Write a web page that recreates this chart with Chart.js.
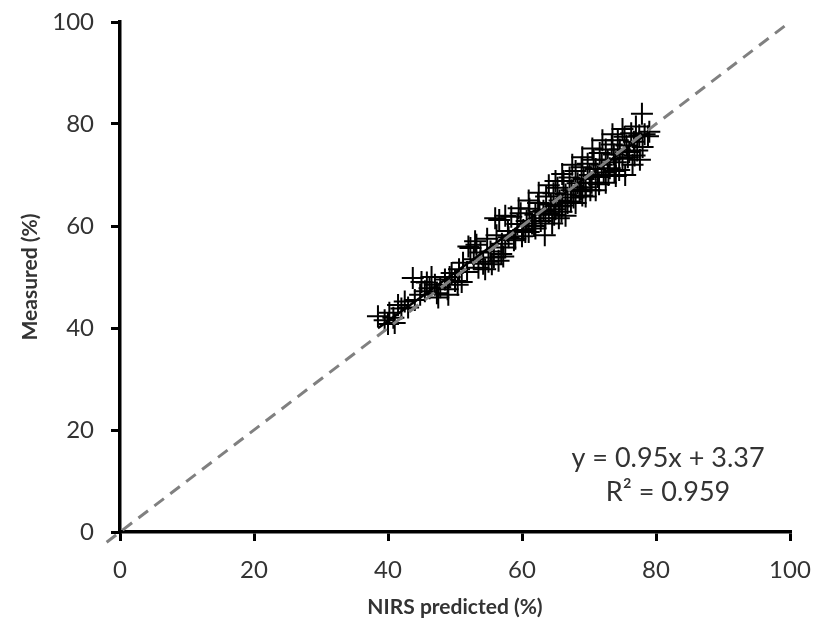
<!DOCTYPE html>
<html>
<head>
<meta charset="utf-8">
<script src="https://cdn.jsdelivr.net/npm/chart.js@4.4.1/dist/chart.umd.min.js"></script>
<style>
  html, body { margin: 0; padding: 0; background: #fff; }
  #wrap { width: 815px; height: 632px; }
</style>
</head>
<body>
<div id="wrap"><canvas id="chart"></canvas></div>
<script>
// Values
const predicted = [
  38.5, 39.5, 40.2, 40.8, 41.5, 42.0, 42.5, 43.7, 44.8, 45.5,
  46.2, 47.0, 47.8, 48.5, 48.9, 49.5, 50.0, 50.6, 51.2, 51.8,
  52.3, 52.8, 53.2, 53.8, 54.2, 54.8, 55.3, 55.8, 56.2, 56.6,
  57.0, 57.5, 57.9, 58.4, 58.8, 59.3, 59.8, 60.2, 60.7, 61.1,
  61.5, 62.0, 62.4, 62.8, 63.2, 63.6, 64.0, 64.3, 64.7, 65.0,
  65.3, 65.6, 65.9, 66.2, 66.5, 66.8, 67.1, 67.4, 67.7, 68.0,
  68.3, 68.6, 68.9, 69.2, 69.5, 69.8, 70.1, 70.4, 70.7, 71.0,
  71.3, 71.6, 71.9, 72.2, 72.5, 72.8, 73.1, 73.4, 73.7, 74.0,
  74.3, 74.6, 75.0, 75.3, 75.6, 76.0, 76.3, 76.7, 77.0, 77.5,
  77.9, 78.3, 78.8, 76.8, 56.9, 60.5, 61.8, 63.5, 64.8, 66.0,
  67.3, 68.8, 70.2, 71.5, 72.9, 74.5, 75.8, 53.5, 55.0, 58.0,
  62.6, 65.5, 69.0, 73.8, 77.2, 49.2, 50.4, 47.3, 44.0, 45.8,
  54.5, 55.5, 56.5, 57.2, 52.0, 53.0, 56.0, 57.5, 59.0, 60.0,
  61.0, 62.0, 63.4, 64.5, 65.5, 66.5, 59.5, 61.0, 62.5, 64.0,
  65.0, 66.0, 67.5, 69.0, 70.5, 72.0, 73.5, 75.0, 68.0, 69.5,
  71.0, 72.5, 74.0, 75.4, 76.5, 77.6, 78.0, 79.0, 47.5, 49.0,
  51.0, 43.0, 41.0, 40.0, 45.0, 46.5
];
const measured = [
  42.3, 41.5, 43.0, 42.0, 44.5, 43.8, 45.2, 49.8, 46.5, 47.2,
  47.8, 48.5, 48.0, 49.5, 47.6, 50.8, 49.2, 51.5, 52.8, 51.0,
  55.7, 53.5, 56.3, 54.8, 52.6, 57.5, 55.0, 53.8, 58.2, 61.2,
  56.5, 55.8, 59.0, 61.8, 57.2, 60.4, 62.5, 59.2, 61.0, 63.4,
  60.5, 62.2, 64.5, 61.0, 63.0, 65.8, 62.5, 64.2, 66.4, 63.3,
  67.5, 65.0, 62.8, 68.8, 66.2, 64.5, 69.5, 67.0, 65.6, 70.8,
  68.4, 66.8, 71.5, 69.2, 67.6, 72.2, 70.0, 68.5, 73.0, 71.2,
  69.6, 74.3, 72.0, 70.5, 75.0, 73.0, 71.3, 76.0, 74.0, 72.5,
  76.8, 75.0, 73.2, 77.5, 75.8, 74.5, 78.2, 76.5, 79.5, 77.8,
  82.0, 78.0, 77.6, 73.8, 54.5, 58.8, 60.0, 61.5, 62.2, 64.0,
  64.8, 67.2, 67.0, 68.2, 70.0, 71.0, 73.5, 51.8, 53.0, 57.8,
  62.8, 63.8, 66.0, 70.8, 74.8, 50.0, 48.5, 46.8, 45.5, 48.9,
  51.5, 52.5, 53.2, 54.0, 56.0, 57.0, 61.5, 62.0, 57.5, 58.0,
  58.8, 59.5, 58.2, 60.5, 61.5, 62.0, 63.5, 65.0, 66.5, 68.0,
  68.8, 70.2, 72.0, 73.5, 75.2, 76.8, 78.0, 79.0, 64.5, 65.8,
  67.0, 68.5, 69.8, 70.0, 72.0, 73.0, 75.5, 78.5, 46.0, 46.5,
  49.0, 44.0, 41.0, 40.8, 49.0, 50.0
];
const axisTicks = [0, 20, 40, 60, 80, 100];
const identityLine = [-2, 100];
const fitRange = [38.5, 79];
const fitSlope = 0.95;
const fitIntercept = 3.37;
const fitLabels = ['y = 0.95x + 3.37', 'R² = 0.959'];

const FONT = 'Lato, "Open Sans", sans-serif';
const TEXT = '#333333';

const points = predicted.map((x, i) => ({ x: x, y: measured[i] }));
const identity = identityLine.map(v => ({ x: v, y: v }));
const fit = fitRange.map(x => ({ x: x, y: fitSlope * x + fitIntercept }));

// Equation text placed in data space
const equationPlugin = {
  id: 'equation',
  afterDatasetsDraw(chart) {
    const { ctx, scales } = chart;
    const cx = scales.x.getPixelForValue(81.8);
    ctx.save();
    ctx.fillStyle = TEXT;
    ctx.font = '27px ' + FONT;
    ctx.textAlign = 'center';
    ctx.textBaseline = 'middle';
    ctx.fillText(fitLabels[0], cx, scales.y.getPixelForValue(14.5));
    ctx.fillText(fitLabels[1], cx, scales.y.getPixelForValue(7.8));
    ctx.restore();
  }
};

function axis(title) {
  return {
    type: 'linear',
    min: 0,
    max: 100,
    afterBuildTicks: s => { s.ticks = axisTicks.map(v => ({ value: v })); },
    ticks: { color: TEXT, font: { family: FONT, size: 24 }, padding: 17 },
    grid: { drawOnChartArea: false, drawTicks: true, tickLength: 9, color: '#000', lineWidth: 3 },
    border: { color: '#000', width: 3.5 },
    title: { display: true, text: title, color: TEXT, font: { family: FONT, size: 21, weight: 'bold' } }
  };
}

// fixed axis sizes; label overflow is left to the layout padding
const xAxis = axis('NIRS predicted (%)');
xAxis.afterFit = s => { s.height = 100; s.paddingLeft = 0; s.paddingRight = 0; };
xAxis.ticks.padding = 15;
xAxis.title.padding = { top: 4, bottom: 12 };
const yAxis = axis('Measured (%)');
yAxis.afterFit = s => { s.width = 120; s.paddingTop = 0; s.paddingBottom = 0; };
yAxis.title.padding = { top: 18, bottom: 4 };

new Chart(document.getElementById('chart'), {
  type: 'scatter',
  data: {
    datasets: [
      {
        type: 'line',
        data: identity,
        borderColor: '#808080',
        borderWidth: 3,
        borderDash: [12, 8],
        pointRadius: 0,
        clip: false
      },
      {
        type: 'line',
        data: fit,
        borderColor: '#000',
        borderWidth: 2.5,
        pointRadius: 0
      },
      {
        data: points,
        pointStyle: 'cross',
        pointRadius: 11,
        borderColor: '#000',
        borderWidth: 2,
        backgroundColor: '#000'
      }
    ]
  },
  options: {
    responsive: true,
    maintainAspectRatio: false,
    animation: false,
    layout: { padding: { left: 0, right: 25, top: 22, bottom: 0 } },
    plugins: {
      legend: { display: false },
      tooltip: { enabled: false }
    },
    scales: { x: xAxis, y: yAxis }
  },
  plugins: [equationPlugin]
});
</script>
</body>
</html>
